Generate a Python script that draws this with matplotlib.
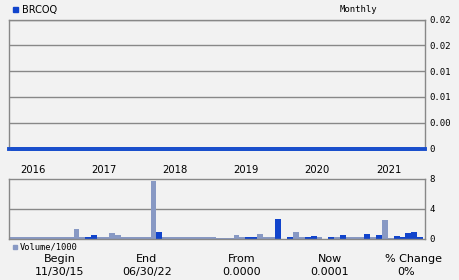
import matplotlib
matplotlib.use("Agg")
import matplotlib.pyplot as plt
import matplotlib.transforms as mtransforms

# ---------------- data ----------------
ticker = "BRCOQ"
period = "Monthly"
years = [2016, 2017, 2018, 2019, 2020, 2021]
first_year_month_index = 2   # Nov 2015 = 0, Jan 2016 = 2

price = [0.0, 0.0, 0.0, 0.0, 0.0, 0.0, 0.0, 0.0, 0.0, 0.0,
         0.0, 0.0, 0.0, 0.0, 0.0, 0.0, 0.0, 0.0, 0.0, 0.0,
         0.0, 0.0, 0.0, 0.0, 0.0, 0.0, 0.0, 0.0, 0.0, 0.0,
         0.0, 0.0, 0.0, 0.0, 0.0, 0.0, 0.0, 0.0, 0.0, 0.0,
         0.0, 0.0, 0.0, 0.0, 0.0, 0.0, 0.0, 0.0, 0.0, 0.0,
         0.0, 0.0, 0.0, 0.0, 0.0, 0.0, 0.0, 0.0, 0.0, 0.0,
         0.0, 0.0, 0.0, 0.0, 0.0, 0.0, 0.0, 0.0, 0.0, 0.0]

volume = [0.25, 0.25, 0.25, 0.25, 0.25, 0.25, 0.25, 0.25, 0.25, 0.25,
          0.25, 1.3, 0.25, 0.25, 0.6, 0.25, 0.25, 0.75, 0.6, 0.25,
          0.25, 0.25, 0.25, 0.25, 7.7, 0.95, 0.25, 0.25, 0.25, 0.25,
          0.25, 0.25, 0.25, 0.25, 0.25, 0.1, 0.1, 0.1, 0.55, 0.25,
          0.25, 0.25, 0.7, 0.25, 0.25, 2.7, 0.0, 0.25, 0.9, 0.25,
          0.25, 0.4, 0.25, 0.0, 0.3, 0.25, 0.5, 0.25, 0.25, 0.25,
          0.65, 0.25, 0.5, 2.5, 0.1, 0.35, 0.25, 0.85, 1.0, 0.3]

direction = ["d", "d", "d", "d", "d", "d", "d", "d", "d", "d",
             "d", "d", "d", "u", "u", "d", "d", "d", "d", "d",
             "d", "d", "d", "d", "d", "u", "d", "d", "d", "d",
             "d", "d", "d", "d", "d", "d", "d", "d", "d", "d",
             "u", "u", "d", "d", "d", "u", "d", "u", "d", "d",
             "u", "u", "d", "d", "u", "d", "u", "d", "d", "d",
             "u", "d", "u", "d", "d", "u", "u", "u", "u", "u"]

price_ticks = [0.0, 0.004, 0.008, 0.012, 0.016, 0.02]
price_tick_labels = ["0", "0.00", "0.01", "0.01", "0.02", "0.02"]
vol_ticks = [0, 4, 8]
vol_tick_labels = ["0", "4", "8"]

footer_heads = ["Begin", "End", "From", "Now", "% Change"]
footer_vals = ["11/30/15", "06/30/22", "0.0000", "0.0001", "0%"]

# ---------------- style ----------------
BG = "#f2f2f2"
FRAME = "#888888"
LIGHT = "#8899c4"
DARK = "#1144cc"
LINE = "#1a4fcc"
W, H = 460, 280

fig = plt.figure(figsize=(W / 100, H / 100), dpi=100, facecolor=BG)


def rect(l, t, r, b):
    return [l / W, (H - b) / H, (r - l) / W, (b - t) / H]


xs = list(range(len(price)))
XLIM = (-0.3, 69.8)

# price panel
ax = fig.add_axes(rect(9.5, 19.5, 425, 148.5), facecolor=BG)
ax.set_xlim(*XLIM)
ax.set_ylim(0, 0.02)
for y in price_ticks:
    ax.axhline(y, color=FRAME, lw=1.0, zorder=1)
ax.plot(xs, price, color=LINE, lw=2.8, solid_capstyle="butt", clip_on=False, zorder=3)
ax.axhline(0, color=LINE, lw=2.8, zorder=3, clip_on=False)
ax.set_xticks([])
ax.yaxis.tick_right()
ax.set_yticks(price_ticks)
ax.set_yticklabels(price_tick_labels, family="DejaVu Sans Mono", fontsize=6.5)
ax.tick_params(axis="y", length=0, pad=3)
for s in ax.spines.values():
    s.set_color(FRAME)
    s.set_linewidth(1.0)

# volume panel
av = fig.add_axes(rect(9.5, 179, 425, 239), facecolor=BG)
av.set_xlim(*XLIM)
av.set_ylim(0, 8)
av.axhline(4, color=FRAME, lw=1.0, zorder=1)
colors = [DARK if d == "u" else LIGHT for d in direction]
av.bar(xs, volume, width=1.0, color=colors, zorder=2)
av.set_xticks([])
av.yaxis.tick_right()
av.set_yticks(vol_ticks)
av.set_yticklabels(vol_tick_labels, family="DejaVu Sans Mono", fontsize=6.5)
av.tick_params(axis="y", length=0, pad=3)
for s in av.spines.values():
    s.set_color(FRAME)
    s.set_linewidth(1.0)

# year labels
trans = mtransforms.blended_transform_factory(av.transData, fig.transFigure)
for k, yr in enumerate(years):
    xi = first_year_month_index + 12 * k - 0.5
    av.text(xi, 1 - 170 / H, str(yr), transform=trans, ha="left", va="center",
            fontsize=7.2, color="black")

# header legend
fig.patches.append(plt.Rectangle((13 / W, 1 - 12 / H), 5 / W, 5 / H,
                                 transform=fig.transFigure, color=DARK))
fig.text(22 / W, 1 - 9.5 / H, ticker, fontsize=7.8, ha="left", va="center",
         family="DejaVu Sans", fontstretch="condensed")
fig.text(340 / W, 1 - 9.5 / H, period, fontsize=6.5, ha="left", va="center",
         family="DejaVu Sans Mono")

# volume legend
fig.patches.append(plt.Rectangle((13 / W, 1 - 248.5 / H), 4 / W, 4 / H,
                                 transform=fig.transFigure, color=LIGHT))
fig.text(20 / W, 1 - 246.5 / H, "Volume/1000", fontsize=6.3, ha="left", va="center",
         family="DejaVu Sans Mono")

# footer
cx = [60, 147, 242, 330, 414]
vx = [60, 147, 242, 330, 406]
for h, v, a, b in zip(footer_heads, footer_vals, cx, vx):
    fig.text(a / W, 1 - 259 / H, h, fontsize=8, ha="center", va="center")
    fig.text(b / W, 1 - 272 / H, v, fontsize=8, ha="center", va="center")

fig.savefig("out.png", dpi=100, facecolor=BG)
